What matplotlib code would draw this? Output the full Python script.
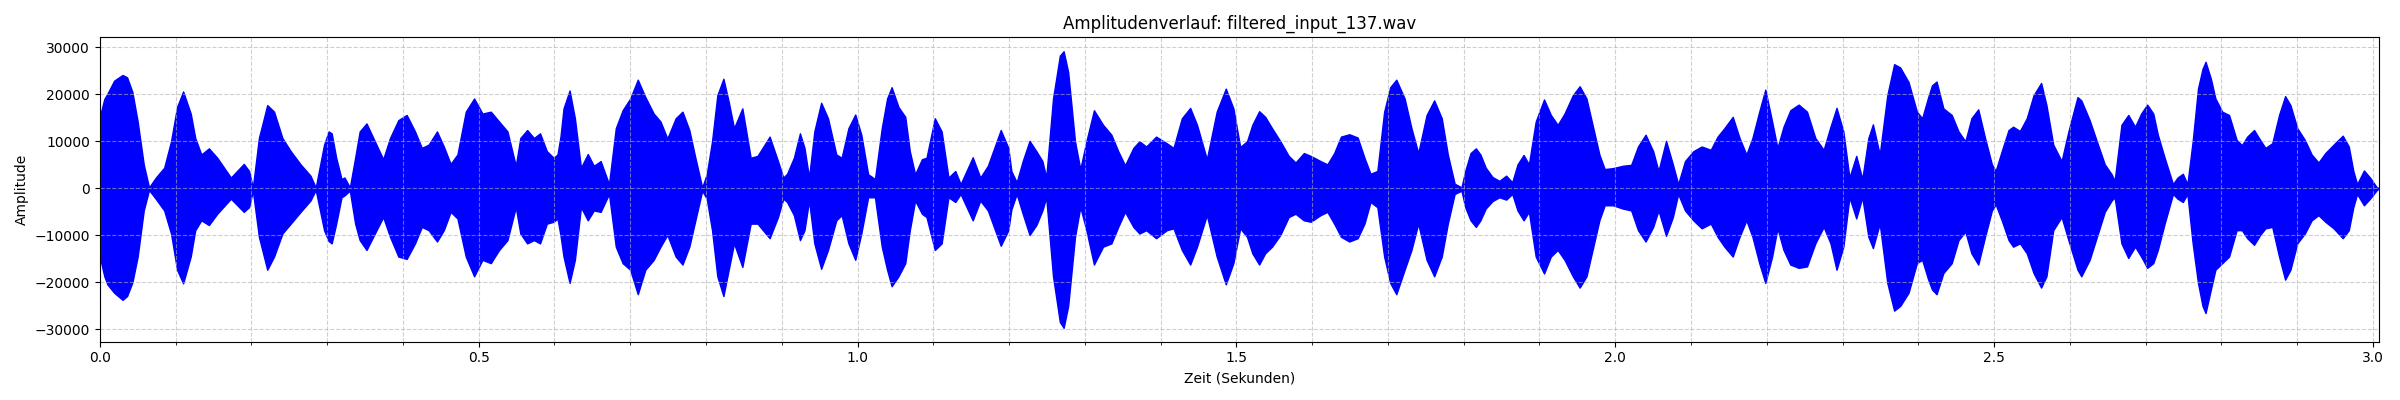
import matplotlib
matplotlib.use("Agg")
import matplotlib.pyplot as plt
from matplotlib.ticker import MultipleLocator

title = "Amplitudenverlauf: filtered_input_137.wav"
x_label = "Zeit (Sekunden)"
y_label = "Amplitude"

# Envelope of the waveform (time in s, upper / lower peak amplitude)
time_s = [
    0.000, 0.006, 0.010, 0.019, 0.030, 0.036, 0.043, 0.050, 0.058, 0.065,
    0.074, 0.085, 0.094, 0.102, 0.110, 0.120, 0.126, 0.134, 0.144, 0.155,
    0.173, 0.190, 0.197, 0.202, 0.210, 0.221, 0.230, 0.241, 0.252, 0.265,
    0.278, 0.285, 0.296, 0.302, 0.306, 0.312, 0.319, 0.323, 0.330, 0.337,
    0.343, 0.352, 0.363, 0.374, 0.383, 0.394, 0.405, 0.416, 0.425, 0.434,
    0.445, 0.454, 0.463, 0.472, 0.483, 0.494, 0.505, 0.516, 0.527, 0.538,
    0.549, 0.555, 0.564, 0.573, 0.581, 0.590, 0.599, 0.604, 0.608, 0.612,
    0.620, 0.627, 0.635, 0.644, 0.652, 0.661, 0.672, 0.681, 0.690, 0.700,
    0.710, 0.720, 0.731, 0.740, 0.749, 0.760, 0.769, 0.778, 0.786, 0.795,
    0.801, 0.808, 0.815, 0.823, 0.830, 0.837, 0.848, 0.859, 0.868, 0.884,
    0.895, 0.902, 0.907, 0.916, 0.924, 0.930, 0.936, 0.943, 0.952, 0.961,
    0.972, 0.979, 0.988, 0.997, 1.005, 1.014, 1.023, 1.032, 1.039, 1.045,
    1.054, 1.063, 1.069, 1.076, 1.085, 1.091, 1.102, 1.111, 1.120, 1.129,
    1.136, 1.152, 1.162, 1.172, 1.189, 1.199, 1.203, 1.210, 1.218, 1.227,
    1.236, 1.244, 1.249, 1.258, 1.267, 1.272, 1.278, 1.287, 1.294, 1.302,
    1.312, 1.324, 1.335, 1.344, 1.353, 1.364, 1.372, 1.381, 1.394, 1.408,
    1.417, 1.428, 1.439, 1.448, 1.461, 1.474, 1.486, 1.496, 1.505, 1.514,
    1.521, 1.530, 1.538, 1.547, 1.558, 1.569, 1.578, 1.589, 1.598, 1.611,
    1.620, 1.629, 1.638, 1.649, 1.660, 1.669, 1.677, 1.686, 1.695, 1.703,
    1.711, 1.722, 1.731, 1.740, 1.751, 1.761, 1.771, 1.779, 1.788, 1.797,
    1.802, 1.809, 1.816, 1.822, 1.829, 1.838, 1.847, 1.856, 1.864, 1.871,
    1.879, 1.886, 1.895, 1.906, 1.915, 1.924, 1.933, 1.944, 1.953, 1.962,
    1.970, 1.979, 1.986, 1.997, 2.010, 2.021, 2.030, 2.040, 2.050, 2.057,
    2.067, 2.076, 2.083, 2.092, 2.103, 2.114, 2.126, 2.135, 2.144, 2.155,
    2.164, 2.173, 2.181, 2.190, 2.198, 2.207, 2.214, 2.222, 2.231, 2.242,
    2.253, 2.264, 2.275, 2.284, 2.292, 2.301, 2.309, 2.318, 2.326, 2.334,
    2.340, 2.349, 2.359, 2.368, 2.376, 2.387, 2.398, 2.405, 2.413, 2.418,
    2.424, 2.433, 2.444, 2.453, 2.462, 2.470, 2.479, 2.488, 2.497, 2.502,
    2.510, 2.519, 2.525, 2.534, 2.543, 2.552, 2.562, 2.569, 2.578, 2.589,
    2.598, 2.610, 2.615, 2.626, 2.637, 2.646, 2.655, 2.659, 2.668, 2.677,
    2.686, 2.694, 2.702, 2.710, 2.716, 2.725, 2.736, 2.742, 2.749, 2.755,
    2.762, 2.769, 2.775, 2.779, 2.786, 2.792, 2.801, 2.810, 2.820, 2.827,
    2.834, 2.843, 2.851, 2.858, 2.867, 2.876, 2.884, 2.891, 2.900, 2.910,
    2.919, 2.928, 2.937, 2.948, 2.960, 2.968, 2.974, 2.979, 2.988, 2.996,
    3.005, 3.0075,
]

env_upper = [
    15200, 19000, 20100, 22900, 24100, 23600, 20500, 14200, 5100, 200,
    2300, 4400, 10000, 17300, 20600, 15900, 10700, 7200, 8500, 6500,
    2300, 5200, 3700, 200, 10700, 17700, 16300, 10700, 7900, 5100,
    2700, 200, 9300, 12100, 11700, 6500, 2000, 2300, 200, 6500,
    12100, 13800, 10000, 6200, 10700, 14500, 15600, 12100, 8600, 9300,
    12100, 8900, 5200, 7200, 16300, 19100, 15900, 16300, 14200, 12100,
    4800, 10700, 12400, 10700, 11700, 7900, 6500, 7200, 11000, 17000,
    20800, 14900, 4400, 7300, 4800, 5800, 900, 12800, 16600, 19100,
    23100, 19400, 15900, 14200, 10600, 14900, 16300, 12400, 6500, 200,
    3000, 10000, 19800, 23300, 18400, 12800, 17000, 6500, 6900, 11000,
    5800, 2300, 3100, 6500, 11700, 8600, 2300, 12100, 18200, 14900,
    7200, 6500, 12800, 15700, 11400, 3000, 2000, 12800, 19100, 21500,
    17300, 15200, 7900, 3000, 6200, 6500, 14900, 12100, 2300, 3700,
    900, 6600, 2300, 4800, 12400, 8600, 3700, 1300, 5800, 10100,
    7900, 5800, 2300, 19100, 28200, 29150, 24700, 10000, 4100, 10000,
    16600, 13500, 11400, 7900, 4900, 8600, 10000, 8900, 11000, 9600,
    8600, 14900, 17100, 13500, 6200, 16300, 21200, 17000, 8800, 10000,
    13500, 16400, 15200, 12800, 10000, 6900, 5500, 7500, 6900, 5800,
    5100, 7500, 11000, 11500, 10800, 6500, 3100, 3700, 16300, 21500,
    23100, 19100, 12800, 7500, 15600, 18700, 14900, 7200, 1000, 200,
    3700, 7500, 8500, 7200, 4400, 2400, 1600, 2700, 1300, 5100,
    7100, 5100, 14200, 18900, 15600, 13500, 15900, 19800, 21700, 19100,
    13500, 7200, 4100, 4300, 4800, 5000, 8900, 11400, 7900, 3700,
    10100, 5100, 900, 5800, 7900, 8900, 8200, 11000, 12800, 15200,
    10700, 7200, 10700, 16300, 21000, 14200, 8600, 13100, 16600, 17800,
    16300, 10700, 8200, 13100, 17100, 12100, 2300, 6900, 2000, 10700,
    13600, 7200, 19800, 26400, 25700, 22600, 16300, 14900, 19400, 21900,
    22700, 17000, 15600, 12100, 10000, 14900, 16800, 10700, 5100, 3700,
    7900, 12400, 13100, 12200, 14900, 19800, 22400, 17700, 9300, 5800,
    12100, 19400, 18700, 14500, 9300, 5100, 3000, 1600, 13500, 15600,
    13100, 15900, 17800, 15900, 11400, 6500, 900, 2300, 3100, 900,
    10000, 21200, 25400, 26900, 23300, 19100, 16300, 15600, 10300, 9200,
    11000, 12400, 10300, 8600, 9600, 15600, 19600, 17700, 12800, 10300,
    7200, 5500, 7500, 9300, 11200, 8900, 3700, 900, 3800, 2300,
    200, 100,
]

env_lower = [
    -14500, -18700, -20400, -22200, -23700, -22900, -20000, -14500, -4700, -350,
    -2250, -4700, -9600, -17300, -20200, -14500, -8900, -6800, -7800, -5400,
    -2200, -5000, -4000, -500, -10300, -17300, -14500, -9600, -7500, -5000,
    -2600, -350, -8900, -11200, -11700, -7500, -1900, -1500, -500, -7500,
    -11000, -13100, -9600, -6100, -10300, -14500, -15000, -11700, -8200, -8900,
    -11300, -8900, -5000, -6400, -14500, -18700, -15200, -15900, -13100, -11000,
    -4000, -9600, -11700, -11000, -11700, -7500, -7100, -6400, -10000, -14500,
    -20100, -15200, -4000, -6800, -4700, -5000, -1200, -12400, -15900, -17300,
    -22500, -17300, -15200, -12400, -9900, -14500, -16200, -12400, -6800, -500,
    -2200, -8900, -18700, -22900, -17300, -11700, -16700, -7500, -7500, -10600,
    -6100, -2200, -2900, -5700, -11000, -8900, -2600, -11700, -17100, -13100,
    -6800, -5700, -11700, -15200, -9600, -1900, -1900, -12400, -17300, -20800,
    -18700, -15900, -8900, -2600, -5400, -6100, -13100, -11700, -1900, -2900,
    -1200, -6800, -2600, -4700, -12200, -8900, -4500, -1200, -5400, -9900,
    -7800, -4700, -1900, -18700, -28400, -29650, -25000, -10300, -4000, -8900,
    -16200, -12400, -11700, -8200, -5000, -8200, -9600, -8900, -10600, -8900,
    -8500, -13100, -16200, -12400, -5700, -14500, -20400, -15900, -8500, -10300,
    -13800, -16200, -13800, -12400, -9900, -6100, -5400, -6800, -7100, -5700,
    -5000, -7500, -10300, -11300, -10600, -7500, -2900, -4000, -14500, -20100,
    -22500, -17300, -13100, -7500, -15200, -18700, -14500, -7500, -1200, -500,
    -4000, -6800, -8200, -6800, -4300, -2700, -1900, -2400, -1200, -4700,
    -6800, -5000, -14500, -18100, -14500, -13100, -15200, -18700, -21100, -18700,
    -13100, -6800, -3600, -3600, -4300, -4700, -8900, -11300, -8200, -4700,
    -10100, -6100, -1200, -4700, -6800, -8500, -7500, -10300, -12400, -14500,
    -10300, -6800, -10300, -15900, -20100, -14500, -8500, -13100, -16200, -16900,
    -16600, -11700, -8200, -11700, -17300, -12400, -1900, -6400, -1900, -10300,
    -12700, -7500, -20100, -26000, -25000, -22200, -15900, -15200, -19400, -21500,
    -22500, -18000, -15900, -11000, -9200, -13800, -16200, -10300, -4700, -3400,
    -6800, -11000, -12400, -11700, -13800, -18000, -21100, -18700, -8900, -6100,
    -11000, -17300, -18700, -15200, -9600, -5000, -2600, -1900, -11700, -14800,
    -12400, -14500, -16900, -15900, -13100, -7500, -1200, -2200, -2900, -1200,
    -11700, -20100, -25000, -26500, -21500, -17300, -15900, -14500, -8900, -8900,
    -10600, -12000, -9900, -8500, -8200, -14500, -19400, -17300, -11700, -9600,
    -6800, -5700, -7100, -8500, -10600, -8900, -4000, -1200, -3600, -2200,
    -350, -100,
]

fig, ax = plt.subplots(figsize=(24, 4), dpi=100)
ax.fill_between(time_s, env_lower, env_upper, color="blue", edgecolor="blue", linewidth=1.0)
ax.set_xlim(0, time_s[-1])
ax.set_ylim(-32600, 32100)
ax.xaxis.set_minor_locator(MultipleLocator(0.1))
ax.grid(True, which="both", linestyle="--", alpha=0.6)
ax.set_title(title)
ax.set_xlabel(x_label)
ax.set_ylabel(y_label)
fig.tight_layout()
fig.savefig("out.png", dpi=100)
